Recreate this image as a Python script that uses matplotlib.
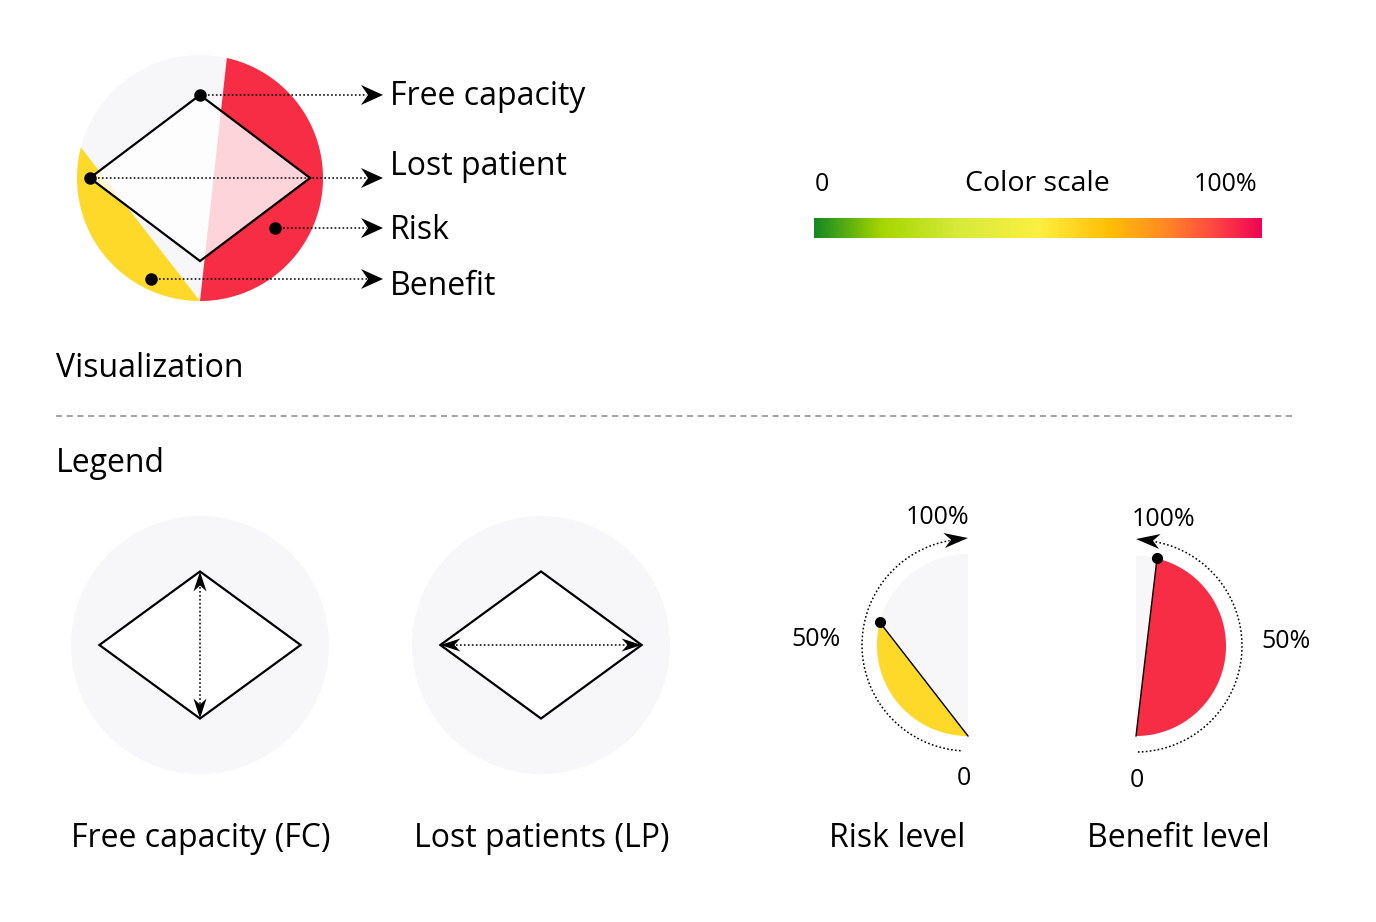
import numpy as np
import matplotlib
matplotlib.use("Agg")
import matplotlib.pyplot as plt
from matplotlib.patches import Circle, Polygon
from matplotlib.colors import LinearSegmentedColormap

plt.rcParams['font.family'] = ['Open Sans', 'DejaVu Sans']

# ---------------- data ----------------
viz_labels = ["Free capacity", "Lost patient", "Risk", "Benefit"]
viz_free_capacity = 0.675   # share of radius (vertical half-diagonal)
viz_lost_patients = 0.895   # share of radius (horizontal half-diagonal)
viz_risk = 0.93             # share of the right half-circle
viz_benefit = 0.58          # share of the left half-circle

legend_titles = ["Free capacity (FC)", "Lost patients (LP)", "Risk level", "Benefit level"]
legend_fc = 0.57
legend_lp = 0.78
legend_risk = 0.58
legend_benefit = 0.925
level_ticks = ["0", "50%", "100%"]

scale_labels = ["0", "Color scale", "100%"]
scale_stops = [0.0, 0.15, 0.32, 0.5, 0.66, 0.78, 0.88, 1.0]
scale_colors = ["#138a22", "#a6d600", "#d6ea3c", "#fdf041", "#ffbe07",
                "#ff8c22", "#ff5040", "#ef0552"]

# ---------------- style ----------------
GRAY = "#f7f7f9"
RED = "#f72d45"
YELLOW = "#ffd929"
BIG = 23
SMALL = 18

W, H = 1376, 922
fig = plt.figure(figsize=(W / 100, H / 100), dpi=100)
ax = fig.add_axes([0, 0, 1, 1])
ax.set_xlim(0, W)
ax.set_ylim(H, 0)
ax.axis("off")


def arc_xy(cx, cy, r, phi, side):
    """phi in degrees measured from the bottom point; side -1 left, +1 right."""
    p = np.radians(phi)
    return cx + side * r * np.sin(p), cy + r * np.cos(p)


def segment(cx, cy, r, frac, side, color, z=2):
    phis = np.linspace(0, 180 * frac, 200)
    xs, ys = arc_xy(cx, cy, r, phis, side)
    ax.add_patch(Polygon(np.column_stack([xs, ys]), closed=True,
                         facecolor=color, edgecolor="none", zorder=z))
    return xs[-1], ys[-1]


def half_disc(cx, cy, r, side, color, z=1):
    phis = np.linspace(0, 180, 200)
    xs, ys = arc_xy(cx, cy, r, phis, side)
    ax.add_patch(Polygon(np.column_stack([xs, ys]), closed=True,
                         facecolor=color, edgecolor="none", zorder=z))


def stealth(tip, ang, L=22, w=20, notch=7, z=6):
    ca, sa = np.cos(ang), np.sin(ang)
    loc = [(0, 0), (-L, w / 2), (-L + notch, 0), (-L, -w / 2)]
    pts = [(tip[0] + x * ca - y * sa, tip[1] + x * sa + y * ca) for x, y in loc]
    ax.add_patch(Polygon(pts, closed=True, facecolor="black",
                         edgecolor="none", zorder=z))


def diamond(cx, cy, hw, hh, alpha=1.0, z=3):
    pts = [(cx, cy - hh), (cx + hw, cy), (cx, cy + hh), (cx - hw, cy)]
    ax.add_patch(Polygon(pts, closed=True, facecolor=(1, 1, 1, alpha),
                         edgecolor="black", lw=1.6, joinstyle="miter", zorder=z))
    return pts


DOT = dict(color="black", marker="o", ls="none", zorder=7)
DOTTED = dict(color="black", lw=1.1, ls=(0, (1.1, 1.5)), zorder=5)

# ---------------- visualization ----------------
vcx, vcy, vr = 200, 178, 123
ax.add_patch(Circle((vcx, vcy), vr, facecolor=GRAY, edgecolor="none", zorder=1))
segment(vcx, vcy, vr, viz_benefit, -1, YELLOW)
segment(vcx, vcy, vr, viz_risk, +1, RED)
dpts = diamond(vcx, vcy, viz_lost_patients * vr, viz_free_capacity * vr, alpha=0.8)

tip_x = 383
anchors = [dpts[0], dpts[3], (vcx + 75, vcy + 50), (vcx - 49, vcy + 101)]
baselines = [105, 175, 239, 295]
for (ax0, ay0), lab, bl in zip(anchors, viz_labels, baselines):
    ax.plot([ax0, tip_x - 16], [ay0, ay0], **DOTTED)
    ax.plot([ax0], [ay0], ms=8, **DOT)
    stealth((tip_x, ay0), 0.0)
    ax.text(390, bl, lab, fontsize=BIG, ha="left", va="baseline")

ax.text(56, 377, "Visualization", fontsize=BIG, ha="left", va="baseline")
ax.plot([56, 1292], [416, 416], color="#8a8a8a", lw=1.1, ls=(0, (4, 3)))
ax.text(56, 472, "Legend", fontsize=BIG, ha="left", va="baseline")

# ---------------- color scale ----------------
cmap = LinearSegmentedColormap.from_list("scale", list(zip(scale_stops, scale_colors)))
grad = np.linspace(0, 1, 512)[None, :]
ax.imshow(grad, cmap=cmap, aspect="auto", extent=(814, 1262, 238, 218), zorder=2)
ax.text(822, 191, scale_labels[0], fontsize=SMALL, ha="center", va="baseline")
ax.text(1037, 191, scale_labels[1], fontsize=20.5, ha="center", va="baseline")
ax.text(1226, 191, scale_labels[2], fontsize=SMALL, ha="center", va="baseline")

# ---------------- legend: FC & LP ----------------
lr = 129
for cx, title, mode in [(200, legend_titles[0], "v"), (541, legend_titles[1], "h")]:
    cy = 645
    ax.add_patch(Circle((cx, cy), lr, facecolor=GRAY, edgecolor="none", zorder=1))
    p = diamond(cx, cy, legend_lp * lr, legend_fc * lr)
    if mode == "v":
        ax.plot([cx, cx], [p[0][1] + 12, p[2][1] - 12], **DOTTED)
        stealth(p[0], -np.pi / 2, L=20, w=13, notch=6)
        stealth(p[2], np.pi / 2, L=20, w=13, notch=6)
    else:
        ax.plot([p[3][0] + 12, p[1][0] - 12], [cy, cy], **DOTTED)
        stealth(p[3], np.pi, L=20, w=13, notch=6)
        stealth(p[1], 0.0, L=20, w=13, notch=6)
    ax.text(cx + 1, 847, title, fontsize=BIG, ha="center", va="baseline")

# ---------------- legend: risk level ----------------
rcx, rcy, rr, ra = 968, 645, 91, 106
half_disc(rcx, rcy, rr, -1, GRAY)
px, py = segment(rcx, rcy, rr, legend_risk, -1, YELLOW)
ax.plot([px, rcx], [py, rcy + rr], color="black", lw=1.0, zorder=4)
ax.plot([px], [py], ms=7, **DOT)
phis = np.linspace(4, 170, 200)
xs, ys = arc_xy(rcx, rcy, ra, phis, -1)
ax.plot(xs, ys, **DOTTED)
stealth((rcx, rcy - ra - 1), np.radians(-6), L=24, w=15, notch=7)
ax.text(938, 524, level_ticks[2], fontsize=SMALL, ha="center", va="baseline")
ax.text(816, 646, level_ticks[1], fontsize=SMALL, ha="center", va="baseline")
ax.text(964, 785, level_ticks[0], fontsize=SMALL, ha="center", va="baseline")
ax.text(897, 847, legend_titles[2], fontsize=BIG, ha="center", va="baseline")

# ---------------- legend: benefit level ----------------
bcx, bcy, br, ba = 1136, 646, 90, 106
half_disc(bcx, bcy, br, +1, GRAY)
px, py = segment(bcx, bcy, br, legend_benefit, +1, RED)
ax.plot([px, bcx], [py, bcy + br], color="black", lw=1.0, zorder=4)
ax.plot([px], [py], ms=7, **DOT)
phis = np.linspace(1, 170, 200)
xs, ys = arc_xy(bcx, bcy, ba, phis, +1)
ax.plot(xs, ys, **DOTTED)
stealth((bcx, bcy - ba - 1), np.radians(180 + 6), L=24, w=15, notch=7)
ax.text(1163, 526, level_ticks[2], fontsize=SMALL, ha="center", va="baseline")
ax.text(1286, 648, level_ticks[1], fontsize=SMALL, ha="center", va="baseline")
ax.text(1137, 787, level_ticks[0], fontsize=SMALL, ha="center", va="baseline")
ax.text(1178, 847, legend_titles[3], fontsize=BIG, ha="center", va="baseline")

fig.savefig("out.png", dpi=100, facecolor="white")
